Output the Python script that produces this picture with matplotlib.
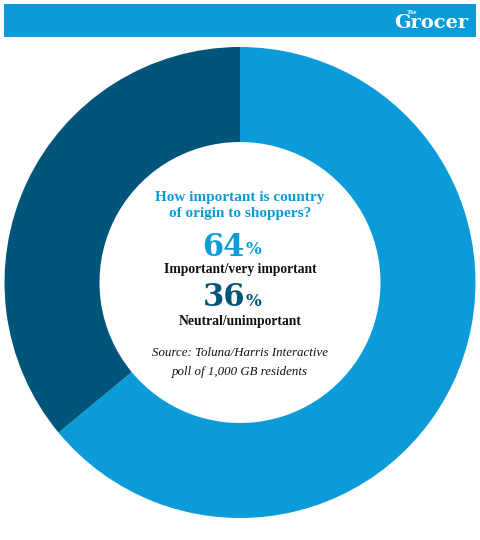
import matplotlib
matplotlib.use("Agg")
import matplotlib.pyplot as plt
from matplotlib.patches import Rectangle

# data
labels = ["Important/very important", "Neutral/unimportant"]
shares = [64, 36]
colors = ["#0A9BD8", "#02557A"]

W, H = 480, 540

fig = plt.figure(figsize=(W / 100, H / 100), dpi=100)
fig.patch.set_facecolor("white")
ax = fig.add_axes([0, 0, 1, 1])
ax.set_xlim(0, W)
ax.set_ylim(0, H)
ax.axis("off")


def py(y):
    # pixel row from top -> data y
    return H - y


serif = "Liberation Serif"

# header bar
ax.add_patch(Rectangle((4, py(37)), 472, 33, color="#0A9BD8", lw=0))
ax.text(431, py(23), "Grocer", color="white", fontsize=14, fontweight="bold",
        family="DejaVu Serif", ha="center", va="center")
ax.text(412, py(12), "The", color="white", fontsize=4.5, fontweight="bold",
        family=serif, ha="center", va="center")

# donut
ax.pie(shares, colors=colors, startangle=90, counterclock=False,
       center=(240, py(282.5)), radius=235.5,
       wedgeprops=dict(width=95, linewidth=0), frame=False)
ax.set_xlim(0, W)
ax.set_ylim(0, H)
ax.set_aspect("equal")

ax.text(240, py(197), "How important is country", color="#0A9BD8",
        fontsize=11, fontweight="bold", family=serif, ha="center", va="center")
ax.text(240, py(214), "of origin to shoppers?", color="#0A9BD8",
        fontsize=11, fontweight="bold", family=serif, ha="center", va="center")

for val, col, lab, yv, yl in [(shares[0], colors[0], labels[0], 247, 270),
                              (shares[1], colors[1], labels[1], 298, 322)]:
    ax.text(245, py(yv), f"{val}", color=col, fontsize=22, fontweight="bold",
            family="DejaVu Serif", ha="right", va="center")
    ax.text(246, py(yv + 3), "%", color=col, fontsize=12, fontweight="bold",
            family="DejaVu Serif", ha="left", va="center")
    ax.text(240, py(yl), lab, color="#111111", fontsize=9.8, fontweight="bold",
            family=serif, ha="center", va="center")

ax.text(240, py(353), "Source: Toluna/Harris Interactive", color="#111111",
        fontsize=9.3, style="italic", family=serif, ha="center", va="center")
ax.text(240, py(372), "poll of 1,000 GB residents", color="#111111",
        fontsize=9.3, style="italic", family=serif, ha="center", va="center")

fig.savefig("out.png", dpi=100, facecolor="white")
